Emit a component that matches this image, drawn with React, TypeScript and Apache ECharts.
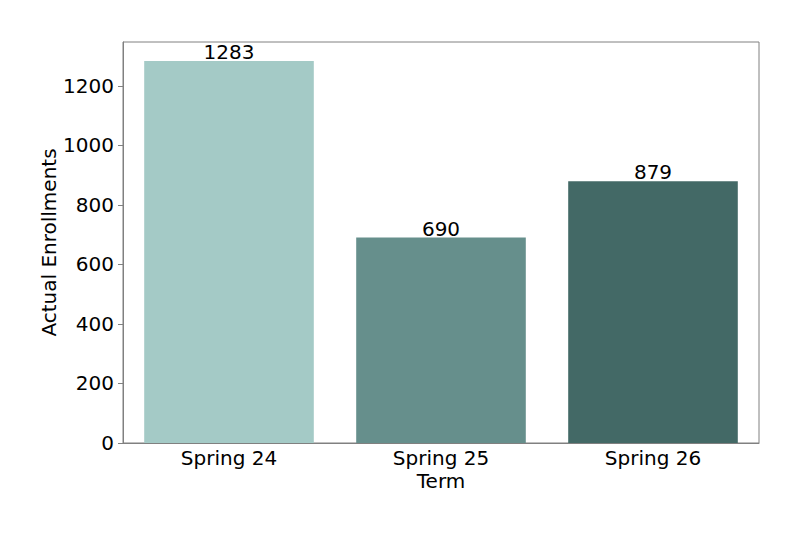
import React, { useEffect, useRef } from "react";
import * as echarts from "echarts";

const terms = ["Spring 24", "Spring 25", "Spring 26"];
const enrollments = [1283, 690, 879];
const barColors = ["#a4cac6", "#668f8c", "#436966"];
const yTicks = [0, 200, 400, 600, 800, 1000, 1200];

const FONT = "DejaVu Sans";
const FS = 20;

const App = () => {
    const chartRef = useRef<HTMLDivElement>(null);

    useEffect(() => {
        if (!chartRef.current) return;
        const chart = echarts.init(chartRef.current, null, { renderer: "svg" });

        const yMax = Math.max(...enrollments) * 1.05;

        chart.setOption({
            animation: false,
            textStyle: { fontFamily: FONT },
            grid: {
                left: 123, right: 41, top: 42, bottom: 90,
                show: true, borderColor: "#808080", borderWidth: 1,
                containLabel: false
            },
            xAxis: {
                type: "category",
                data: terms,
                name: "Term",
                nameLocation: "middle",
                nameGap: 28,
                nameMoveOverlap: false,
                nameTextStyle: { fontSize: FS, color: "#000", fontFamily: FONT, lineHeight: 20 },
                axisLine: { lineStyle: { color: "#808080", width: 1 } },
                axisTick: { alignWithLabel: true, length: 5, lineStyle: { color: "#808080" } },
                axisLabel: { fontSize: FS, color: "#000", margin: 5, fontFamily: FONT, lineHeight: 20 }
            },
            yAxis: {
                type: "value",
                min: 0,
                max: yMax,
                name: "Actual Enrollments",
                nameLocation: "middle",
                nameGap: 64,
                nameMoveOverlap: false,
                nameTextStyle: { fontSize: FS, color: "#000", fontFamily: FONT },
                splitLine: { show: false },
                axisLine: { show: true, lineStyle: { color: "#808080", width: 1 } },
                axisTick: { show: true, length: 5, lineStyle: { color: "#808080" }, customValues: yTicks },
                axisLabel: {
                    fontSize: FS, color: "#000", margin: 9, fontFamily: FONT,
                    customValues: yTicks,
                    formatter: (v: number) => String(v)
                }
            },
            series: [
                {
                    type: "bar",
                    barWidth: "80%",
                    data: enrollments.map((v, i) => ({
                        value: v,
                        itemStyle: { color: barColors[i] }
                    })),
                    label: {
                        show: true,
                        position: "top",
                        distance: -1,
                        fontSize: FS,
                        color: "#000",
                        fontFamily: FONT
                    }
                }
            ]
        });

        return () => chart.dispose();
    }, []);

    return <div ref={chartRef} style={{ width: "800px", height: "533px", margin: "-8px" }} />;
};

export default App;
